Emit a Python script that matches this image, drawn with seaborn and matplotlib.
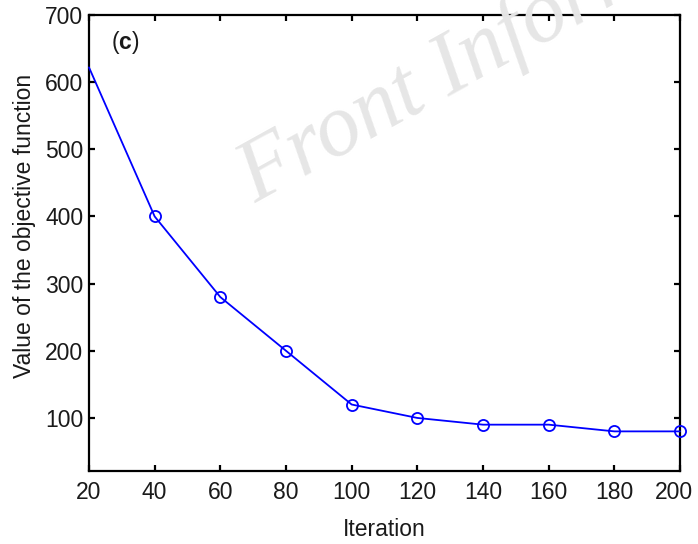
import matplotlib
matplotlib.use("Agg")
import matplotlib.pyplot as plt
from matplotlib.transforms import ScaledTranslation
import seaborn as sns
import pandas as pd

# Objective value recorded every 20 iterations
iterations = [20, 40, 60, 80, 100, 120, 140, 160, 180, 200]
objective = [622, 400, 280, 200, 120, 100, 90, 90, 80, 80]

x_ticks = [20, 40, 60, 80, 100, 120, 140, 160, 180, 200]
y_ticks = [100, 200, 300, 400, 500, 600, 700]

sns.set_style("ticks")
plt.rcParams["font.family"] = ["Liberation Sans", "DejaVu Sans"]
plt.rcParams["mathtext.fontset"] = "custom"
plt.rcParams["mathtext.rm"] = "Liberation Sans"
plt.rcParams["mathtext.bf"] = "Liberation Sans:bold"

df = pd.DataFrame({"Iteration": iterations, "Objective": objective})

fig = plt.figure(figsize=(6.98, 5.44), dpi=100)
ax = fig.add_axes([89 / 698, 1 - 471 / 544, (680 - 89) / 698, (471 - 15) / 544])

sns.lineplot(
    data=df, x="Iteration", y="Objective", ax=ax,
    color="#0000ff", linewidth=1.3,
    marker="o", markersize=8, markerfacecolor="none",
    markeredgecolor="#0000ff", markeredgewidth=1.3,
    markevery=list(range(1, len(iterations))),
    clip_on=False, zorder=3,
)

ax.set_xlim(20, 200)
ax.set_ylim(21, 700)
ax.set_xticks(x_ticks)
ax.set_yticks(y_ticks)
ax.set_xticklabels([str(v) for v in x_ticks])
ax.set_yticklabels([str(v) for v in y_ticks])

for side in ["left", "right", "top", "bottom"]:
    ax.spines[side].set_visible(True)
    ax.spines[side].set_linewidth(1.6)
    ax.spines[side].set_color("black")

ax.tick_params(axis="both", which="both", direction="in", length=4, width=1.6,
               top=True, right=True, labelsize=16.5, colors="black",
               labelcolor="#1a1a1a")
ax.tick_params(axis="x", pad=7)
ax.tick_params(axis="y", pad=4)

ax.set_xlabel("Iteration", fontsize=16.5, color="#1a1a1a")
ax.xaxis.set_label_coords(0.5, -0.104)
ax.set_ylabel("Value of the objective function", fontsize=16.5,
              color="#1a1a1a")
ax.yaxis.set_label_coords(-0.09, 0.537)

# Panel tag: regular parentheses around a bold letter
ax.text(0.038, 0.939, r"($\mathbf{c}$)", transform=ax.transAxes,
        fontsize=16.5, ha="left", va="center", color="#1a1a1a")

# Faint publisher watermark across the upper part of the figure
fig.text(255 / 698, 1 - 203 / 544, "Front Information", fontsize=64,
         family="Liberation Serif", style="italic", color="#e6e6e6",
         rotation=29, rotation_mode="anchor", ha="left", va="baseline",
         zorder=0)

# Nudge the last x tick label inward so it stays inside the figure
last = ax.xaxis.get_major_ticks()[-1].label1
last.set_transform(last.get_transform()
                   + ScaledTranslation(-6 / 100, 0, fig.dpi_scale_trans))

fig.savefig("out.png", dpi=100, facecolor="white")
